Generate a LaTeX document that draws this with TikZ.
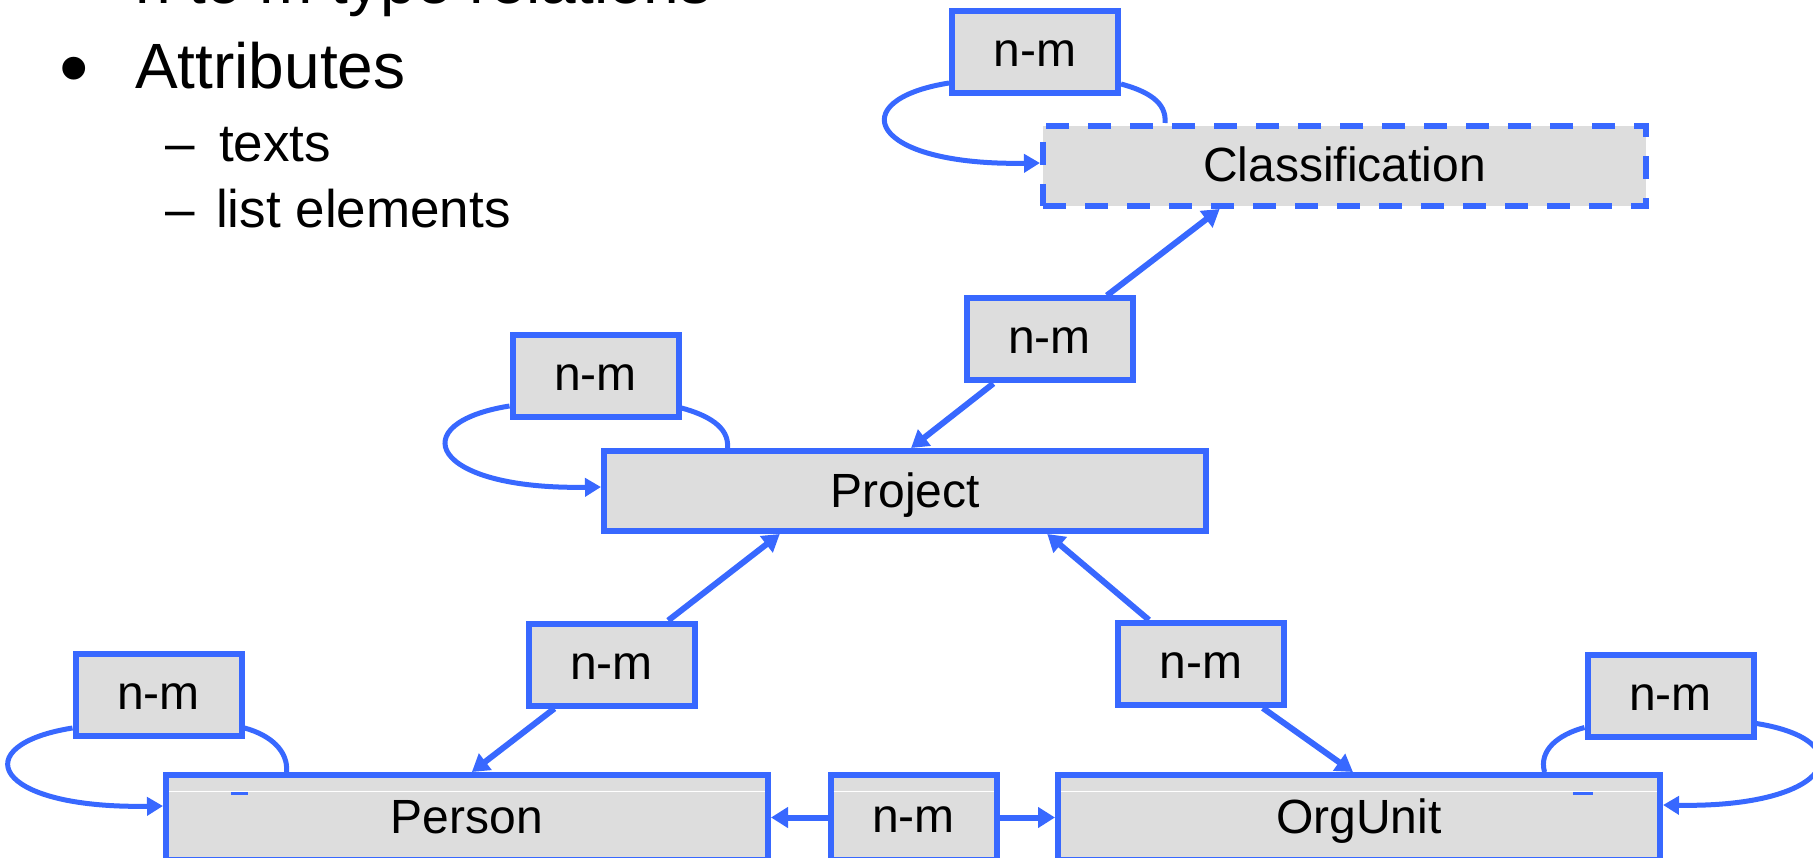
\documentclass[tikz,border=0pt]{standalone}
\usepackage{fontspec}
\setmainfont{Liberation Sans}
\usetikzlibrary{arrows.meta,calc}
\definecolor{bl}{RGB}{56,104,255}
\definecolor{gf}{RGB}{221,221,221}
\begin{document}
\begin{tikzpicture}[x=1pt,y=-1pt,
  box/.style={draw=bl,fill=gf,line width=6pt,inner sep=0pt,font=\fontsize{48}{58}\selectfont,text depth=0pt},
  ent/.style={box,minimum width=602pt,minimum height=80pt,text height=32pt},
  rel/.style={box,minimum width=166pt,minimum height=82pt,text height=29pt},
  con/.style={draw=bl,line width=6pt,-{Triangle[length=17pt,width=20pt]}},
  lp/.style={draw=bl,line width=5pt},
  lpa/.style={lp,-{Triangle[length=16pt,width=18pt]}},
  big/.style={anchor=base west,inner sep=0pt,font=\fontsize{64}{77}\selectfont},
  small/.style={anchor=base west,inner sep=0pt,font=\fontsize{53}{64}\selectfont},
  ]
\useasboundingbox (0,0) rectangle (1813,858);
\clip (0,0) rectangle (1813,858);

% bullet text
\node[big] (t0) at (135,4) {n to m type relations};
\node[anchor=base west,inner sep=0pt,font=\fontsize{84}{96}\selectfont] (b1) at (59,97) {•};
\node[big] (t1) at (135,89) {Attributes};
\node[small] (d1) at (165,162) {–};
\node[small] (t2) at (219,162) {texts};
\node[small] (d2) at (165,228) {–};
\node[small] (t3) at (216,228) {list elements};

% nodes
\node[rel] (nmC) at (1035,52) {n-m};
\node[ent,minimum width=603pt,dash pattern=on 23pt off 19pt] (cls) at (1344.5,166) {Classification};
\node[rel] (nmPC) at (1049.5,339.5) {n-m};
\node[rel] (nmP) at (595.5,376) {n-m};
\node[ent] (prj) at (905,491) {Project};
\node[rel] (nmPP) at (611.5,664.5) {n-m};
\node[rel] (nmOP) at (1201,664) {n-m};
\node[rel] (nmPe) at (158.5,695) {n-m};
\node[rel] (nmO) at (1670.5,695.5) {n-m};
\node[ent,minimum height=85pt] (per) at (467,817.5) {Person};
\node[rel,minimum height=85pt] (nmM) at (913.5,817.5) {n-m};
\node[ent,minimum height=85pt] (org) at (1359,817.5) {OrgUnit};

% thin white lines and marks in bottom row
\foreach \n in {per,nmM,org}{
  \draw[white,line width=1.2pt] ([xshift=6pt,yshift=-19.5pt]\n.north west) -- ([xshift=-6pt,yshift=-19.5pt]\n.north east);
}
\draw[bl,line width=2.5pt] ($(per.north west)+(68,21.5)$) -- ++(17,0);
\draw[bl,line width=2.5pt] ($(org.north west)+(518,21.5)$) -- ++(20,0);

% straight connectors
\draw[con] (nmPC) -- ($(cls.south west)!0.295!(cls.south east)$);
\draw[con] (nmPC) -- ($(prj.north west)!0.51!(prj.north east)$);
\draw[con] (nmPP) -- ($(prj.south west)!0.294!(prj.south east)$);
\draw[con] (nmPP) -- ($(per.north west)!0.508!(per.north east)$);
\draw[con] (nmOP) -- ($(prj.south west)!0.734!(prj.south east)$);
\draw[con] (nmOP) -- ($(org.north west)!0.49!(org.north east)$);
\draw[con] (nmM) -- (per);
\draw[con] (nmM) -- (org);

% self loops
\draw[lpa] ([yshift=13pt]nmC.south west) .. controls +(-107,17) and +(-172,3) .. ([yshift=3pt]cls.west);
\coordinate (cr) at ([xshift=44pt]nmC.south east);
\draw[lp] ([yshift=12pt]nmC.south east) .. controls +(26,7) and +(2,-21) .. (cr |- cls.north);

\draw[lpa] ([yshift=14pt]nmP.south west) .. controls +(-107,17) and +(-172,3) .. ([yshift=4pt]prj.west);
\coordinate (pr) at ([xshift=46pt]nmP.south east);
\draw[lp] ([yshift=12pt]nmP.south east) .. controls +(26,7) and +(2,-21) .. (pr |- prj.north);

\draw[lpa] ([yshift=11pt]nmPe.south west) .. controls +(-107,17) and +(-172,3) .. ([yshift=11.5pt]per.west);
\coordinate (pe) at ([xshift=42pt]nmPe.south east);
\draw[lp] ([yshift=11pt]nmPe.south east) .. controls +(26,7) and +(2,-21) .. (pe |- per.north);

\draw[lpa] ([yshift=16pt]nmO.south east) .. controls +(107,17) and +(172,3) .. ([yshift=12.5pt]org.east);
\coordinate (ol) at ([xshift=-40pt]nmO.south west);
\draw[lp] ([yshift=12pt]nmO.south west) .. controls +(-26,7) and +(-6,-22) .. (ol |- org.north);
\end{tikzpicture}
\end{document}
